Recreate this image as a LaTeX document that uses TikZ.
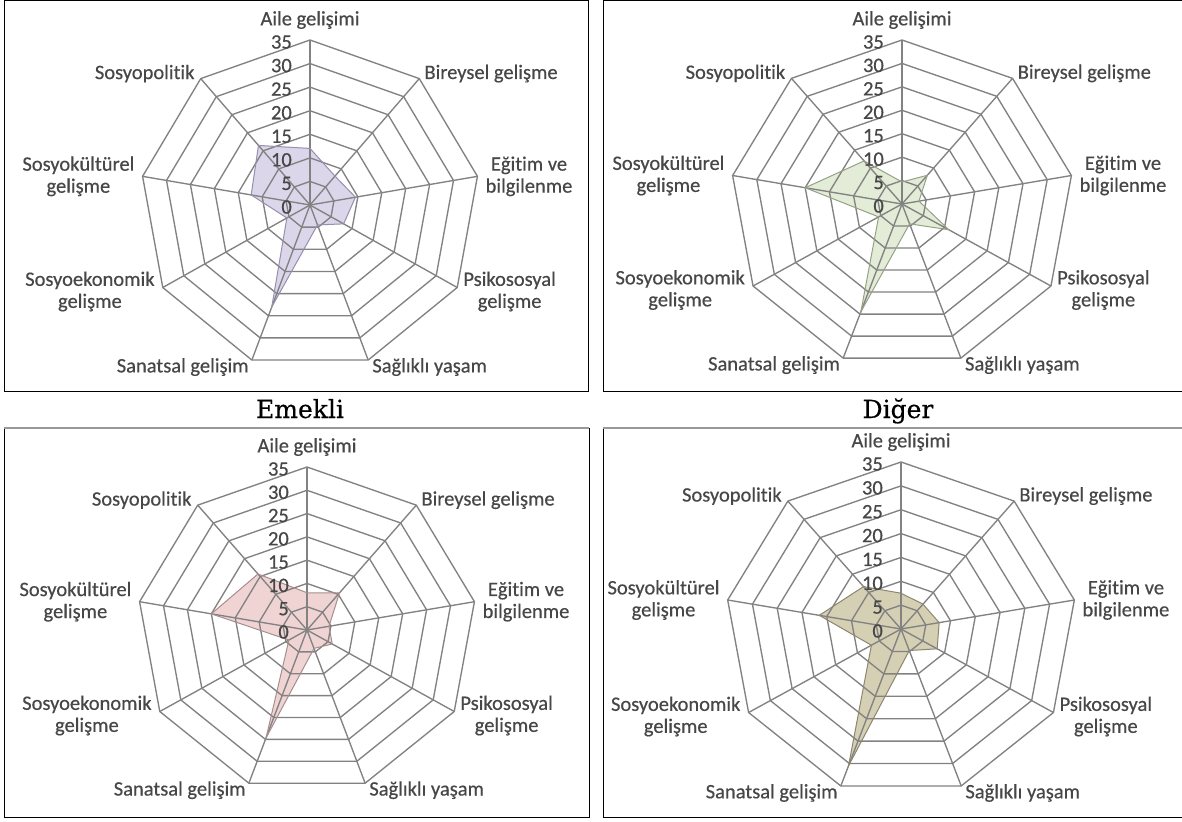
\documentclass[tikz,border=0pt]{standalone}
\usepackage{fontspec}
\setmainfont{Carlito}
\newfontfamily\labfont[FakeBold=0.45,RawFeature={-liga;-dlig;-clig}]{Carlito}
\newfontfamily\capfont[FakeBold=0.35]{DejaVu Serif}
\definecolor{gridc}{HTML}{828282}
\definecolor{labc}{HTML}{474747}
\definecolor{fillA}{HTML}{DCD6EA}\definecolor{lineA}{HTML}{968FAE}
\definecolor{fillB}{HTML}{E3ECD6}\definecolor{lineB}{HTML}{96A286}
\definecolor{fillC}{HTML}{F0D4D4}\definecolor{lineC}{HTML}{A68E8E}
\definecolor{fillD}{HTML}{D5CFB3}\definecolor{lineD}{HTML}{8C8670}
\tikzset{
  gridline/.style={draw=gridc, line width=1.35pt, line join=miter},
  axlab/.style={font=\labfont\fontsize{20.5}{22}\selectfont, text=labc, inner sep=0pt, align=center},
  numlab/.style={font=\labfont\fontsize{20.5}{22}\selectfont, text=labc, inner sep=0pt, anchor=east},
  boxframe/.style={draw=black, line width=1pt},
  capt/.style={font=\capfont\fontsize{25}{28}\selectfont, anchor=base, inner sep=0pt},
  series/.style={line width=1pt, line join=miter}
}
% #1 id, #2 cx, #3 cy, #4 rx, #5 ry, #6 values, #7 fill colour, #8 line colour
\newcommand\drawradar[8]{%
  \coordinate (#1-c) at (#2,#3);
  \foreach \i in {0,...,8}{
    \coordinate (#1-v\i) at ({#2+#4*cos(90-40*\i)},{#3-#5*sin(90-40*\i)});
  }
  \foreach \v [count=\i from 0] in {#6}{
    \coordinate (#1-p\i) at ({#2+#4*\v/35*cos(90-40*\i)},{#3-#5*\v/35*sin(90-40*\i)});
  }
  \fill[#7] (#1-p0) -- (#1-p1) -- (#1-p2) -- (#1-p3) -- (#1-p4) -- (#1-p5) -- (#1-p6) -- (#1-p7) -- (#1-p8) -- cycle;
  \foreach \k in {1,...,7}{
    \draw[gridline] ({#2},{#3-#5*\k/7})
      \foreach \i in {1,...,8}{ -- ({#2+#4*\k/7*cos(90-40*\i)},{#3-#5*\k/7*sin(90-40*\i)}) } -- cycle;
  }
  \foreach \i in {0,...,8}{ \draw[gridline] (#1-c) -- (#1-v\i); }
  \draw[series, draw=#8] (#1-p0) -- (#1-p1) -- (#1-p2) -- (#1-p3) -- (#1-p4) -- (#1-p5) -- (#1-p6) -- (#1-p7) -- (#1-p8) -- cycle;
  \foreach \k in {0,...,7}{
    \pgfmathtruncatemacro\val{5*\k}
    \node[numlab] (#1-n\k) at ({#2-18},{#3-#5*\k/7+2}) {\val};
  }
  \node[axlab, anchor=center] (#1-l0) at ([yshift=20pt]#1-v0) {Aile gelişimi};
  \node[axlab, anchor=west] (#1-l1) at ([xshift=5pt,yshift=5pt]#1-v1) {Bireysel gelişme};
  \node[axlab, anchor=west] (#1-l2) at ([xshift=8pt]#1-v2) {Eğitim ve\\bilgilenme};
  \node[axlab, anchor=west] (#1-l3) at ([xshift=6pt,yshift=-4pt]#1-v3) {Psikososyal\\gelişme};
  \node[axlab, anchor=west] (#1-l4) at ([xshift=4pt,yshift=-7pt]#1-v4) {Sağlıklı yaşam};
  \node[axlab, anchor=east] (#1-l5) at ([xshift=-3pt,yshift=-7pt]#1-v5) {Sanatsal gelişim};
  \node[axlab, anchor=east] (#1-l6) at ([xshift=-8pt,yshift=-4pt]#1-v6) {Sosyoekonomik\\gelişme};
  \node[axlab, anchor=east] (#1-l7) at ([xshift=-8pt]#1-v7) {Sosyokültürel\\gelişme};
  \node[axlab, anchor=east] (#1-l8) at ([xshift=-6pt,yshift=5pt]#1-v8) {Sosyopolitik};
}
\begin{document}
\begin{tikzpicture}[x=1pt,y=-1pt]
\useasboundingbox (0,0) rectangle (1182,821);
\fill[white] (0,0) rectangle (1182,821);
\clip (0,0) rectangle (1182,821);
% frames
\draw[boxframe] (4,1) rectangle (588,391);
\draw[boxframe] (603,1) rectangle (1195,391);
\draw[boxframe] (4,428) rectangle (589,817);
\draw[boxframe] (603,428) rectangle (1195,817);
\draw[draw=gray!80, line width=2pt] (4,428) -- (589,428);
\draw[draw=gray!80, line width=2pt] (603,428) -- (1195,428);
% charts
\drawradar{A}{310}{205}{170}{165}{12,8,9.5,8,4.5,23,5.5,12.3,16.5}{fillA}{lineA}
\drawradar{B}{902}{204}{172}{164}{4.7,8,3.5,11,4.5,24.5,5.5,20,12}{fillB}{lineB}
\drawradar{C}{307}{630}{170}{163}{8,10.4,4.6,6,4.2,24.6,4.3,20,15.7}{fillC}{lineC}
\drawradar{D}{901}{629}{176}{167}{7.5,6.8,7.7,8.3,4.8,30.5,6.8,16.5,11.6}{fillD}{lineD}
% captions
\node[capt] (capA) at (300,418) {Emekli};
\node[capt] (capB) at (898,418) {Diğer};
\end{tikzpicture}
\end{document}
